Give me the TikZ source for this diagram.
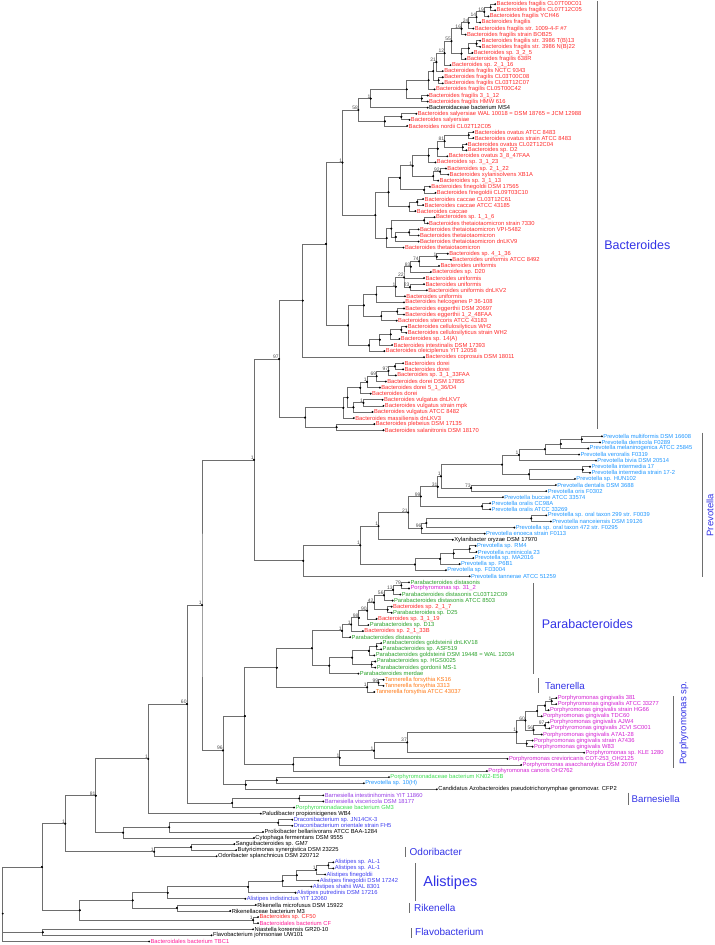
\documentclass[tikz,border=0pt]{standalone}
\usepackage{fontspec}
\setmainfont{Liberation Sans}
\usetikzlibrary{calc}
\definecolor{bred}{RGB}{255,40,40}
\definecolor{pblue}{RGB}{30,150,255}
\definecolor{pgreen}{RGB}{40,160,40}
\definecolor{pmag}{RGB}{210,30,210}
\definecolor{torange}{RGB}{255,120,20}
\definecolor{lgreen}{RGB}{60,220,80}
\definecolor{barn}{RGB}{150,60,230}
\definecolor{dblue}{RGB}{60,60,240}
\definecolor{bpink}{RGB}{255,30,150}
\definecolor{cladec}{RGB}{50,50,230}
\definecolor{brc}{RGB}{110,110,110}
\newcommand\tipfont{\fontsize{5.8}{6}\selectfont}
\newcommand\tp[4]{\coordinate (t#1) at ({#2},{7+(#1-1)*10.098});
  \node[tiplab,text=#3] (t#1l) at (t#1) {#4};}
\newcommand\nb[4]{\path ($(#3)!0.5!(#4)$) coordinate (tmp);
  \coordinate (#1) at (#2,0 |- tmp);
  \draw[br] (#3) -| (#1) |- (#4);
  \fill (#1) circle[radius=1.05pt] (#3) circle[radius=1.05pt] (#4) circle[radius=1.05pt];}
\newcommand\nc[5]{\path ($0.33333*(#3)+0.33333*(#4)+0.33333*(#5)$) coordinate (tmp);
  \coordinate (#1) at (#2,0 |- tmp);
  \draw[br] (#3) -| (#1) |- (#5);
  \draw[br] (#1) |- (#4);
  \fill (#1) circle[radius=1.05pt] (#3) circle[radius=1.05pt] (#4) circle[radius=1.05pt] (#5) circle[radius=1.05pt];}
\newcommand\bs[2]{\node[bsl] (#1b) at (#1) {#2};}
\newcommand\cladebar[4]{\coordinate (#1a) at (#2,#3); \coordinate (#1z) at (#2,#4); \draw[cbar] (#1a) -- (#1z);}
\begin{document}
\begin{tikzpicture}[x=0.456pt,y=-0.6027pt,
  tiplab/.style={anchor=west,inner sep=0pt,xshift=1.3pt,font=\tipfont},
  br/.style={draw=brc,line width=0.75pt},
  bsl/.style={anchor=south east,inner sep=0.2pt,font=\fontsize{5}{5}\selectfont,text=black!70},
  cbar/.style={draw=brc,line width=0.75pt},
  clab/.style={anchor=west,inner sep=0pt,text=cladec}]
\useasboundingbox (0,0) rectangle (1568,1568);
% ---------- tips ----------
\tp{1}{1086}{bred}{Bacteroides fragilis CL07T00C01}
\tp{2}{1086}{bred}{Bacteroides fragilis CL07T12C05}
\tp{3}{1071}{bred}{Bacteroides fragilis YCH46}
\tp{4}{1053}{bred}{Bacteroides fragilis}
\tp{5}{1038}{bred}{Bacteroides fragilis str. 1009-4-F \#7}
\tp{6}{1021}{bred}{Bacteroides fragilis strain BOB25}
\tp{7}{1053}{bred}{Bacteroides fragilis str. 3986 T(B)13}
\tp{8}{1053}{bred}{Bacteroides fragilis str. 3986 N(B)22}
\tp{9}{1036}{bred}{Bacteroides sp. 3\_2\_5}
\tp{10}{1021}{bred}{Bacteroides fragilis 638R}
\tp{11}{988}{bred}{Bacteroides sp. 2\_1\_16}
\tp{12}{971}{bred}{Bacteroides fragilis NCTC 9343}
\tp{13}{971}{bred}{Bacteroides fragilis CL03T00C08}
\tp{14}{971}{bred}{Bacteroides fragilis CL03T12C07}
\tp{15}{953}{bred}{Bacteroides fragilis CL05T00C42}
\tp{16}{938}{bred}{Bacteroides fragilis 3\_1\_12}
\tp{17}{938}{bred}{Bacteroides fragilis HMW 616}
\tp{18}{938}{black}{Bacteroidaceae bacterium MS4}
\tp{19}{913}{bred}{Bacteroides salyersiae WAL 10018 = DSM 18765 = JCM 12988}
\tp{20}{898}{bred}{Bacteroides salyersiae}
\tp{21}{893}{bred}{Bacteroides nordii CL02T12C05}
\tp{22}{1038}{bred}{Bacteroides ovatus ATCC 8483}
\tp{23}{1038}{bred}{Bacteroides ovatus strain ATCC 8483}
\tp{24}{1023}{bred}{Bacteroides ovatus CL02T12C04}
\tp{25}{1023}{bred}{Bacteroides sp. D2}
\tp{26}{981}{bred}{Bacteroides ovatus 3\_8\_47FAA}
\tp{27}{955}{bred}{Bacteroides sp. 3\_1\_23}
\tp{28}{978}{bred}{Bacteroides sp. 2\_1\_22}
\tp{29}{983}{bred}{Bacteroides xylanisolvens XB1A}
\tp{30}{961}{bred}{Bacteroides sp. 3\_1\_13}
\tp{31}{943}{bred}{Bacteroides finegoldii DSM 17565}
\tp{32}{955}{bred}{Bacteroides finegoldii CL09T03C10}
\tp{33}{928}{bred}{Bacteroides caccae CL03T12C61}
\tp{34}{928}{bred}{Bacteroides caccae ATCC 43185}
\tp{35}{911}{bred}{Bacteroides caccae}
\tp{36}{953}{bred}{Bacteroides sp. 1\_1\_6}
\tp{37}{938}{bred}{Bacteroides thetaiotaomicron strain 7330}
\tp{38}{918}{bred}{Bacteroides thetaiotaomicron VPI-5482}
\tp{39}{918}{bred}{Bacteroides thetaiotaomicron}
\tp{40}{918}{bred}{Bacteroides thetaiotaomicron dnLKV9}
\tp{41}{885}{bred}{Bacteroides thetaiotaomicron}
\tp{42}{982}{bred}{Bacteroides sp. 4\_1\_36}
\tp{43}{989}{bred}{Bacteroides uniformis ATCC 8492}
\tp{44}{963}{bred}{Bacteroides uniformis}
\tp{45}{945}{bred}{Bacteroides sp. D20}
\tp{46}{930}{bred}{Bacteroides uniformis}
\tp{47}{930}{bred}{Bacteroides uniformis}
\tp{48}{936}{bred}{Bacteroides uniformis dnLKV2}
\tp{49}{888}{bred}{Bacteroides uniformis}
\tp{50}{886}{bred}{Bacteroides helcogenes P 36-108}
\tp{51}{886}{bred}{Bacteroides eggerthii DSM 20697}
\tp{52}{886}{bred}{Bacteroides eggerthii 1\_2\_48FAA}
\tp{53}{870}{bred}{Bacteroides stercoris ATCC 43183}
\tp{54}{891}{bred}{Bacteroides cellulosilyticus WH2}
\tp{55}{891}{bred}{Bacteroides cellulosilyticus strain WH2}
\tp{56}{876}{bred}{Bacteroides sp. 14(A)}
\tp{57}{860}{bred}{Bacteroides intestinalis DSM 17393}
\tp{58}{843}{bred}{Bacteroides oleiciplenus YIT 12058}
\tp{59}{930}{bred}{Bacteroides coprosuis DSM 18011}
\tp{60}{884}{bred}{Bacteroides dorei}
\tp{61}{884}{bred}{Bacteroides dorei}
\tp{62}{868}{bred}{Bacteroides sp. 3\_1\_33FAA}
\tp{63}{846}{bred}{Bacteroides dorei DSM 17855}
\tp{64}{833}{bred}{Bacteroides dorei 5\_1\_36/D4}
\tp{65}{813}{bred}{Bacteroides dorei}
\tp{66}{839}{bred}{Bacteroides vulgatus dnLKV7}
\tp{67}{841}{bred}{Bacteroides vulgatus strain mpk}
\tp{68}{817}{bred}{Bacteroides vulgatus ATCC 8482}
\tp{69}{776}{bred}{Bacteroides massiliensis dnLKV3}
\tp{70}{821}{bred}{Bacteroides plebeius DSM 17135}
\tp{71}{841}{bred}{Bacteroides salanitronis DSM 18170}
\tp{72}{1320}{pblue}{Prevotella multiformis DSM 16608}
\tp{73}{1316}{pblue}{Prevotella denticola F0289}
\tp{74}{1290}{pblue}{Prevotella melaninogenica ATCC 25845}
\tp{75}{1270}{pblue}{Prevotella veroralis F0319}
\tp{76}{1307}{pblue}{Prevotella bivia DSM 20514}
\tp{77}{1294}{pblue}{Prevotella intermedia 17}
\tp{78}{1294}{pblue}{Prevotella intermedia strain 17-2}
\tp{79}{1261}{pblue}{Prevotella sp. HUN102}
\tp{80}{1219}{pblue}{Prevotella dentalis DSM 3688}
\tp{81}{1198}{pblue}{Prevotella oris F0302}
\tp{82}{1103}{pblue}{Prevotella buccae ATCC 33574}
\tp{83}{1075}{pblue}{Prevotella oralis CC98A}
\tp{84}{1075}{pblue}{Prevotella oralis ATCC 33269}
\tp{85}{1198}{pblue}{Prevotella sp. oral taxon 299 str. F0039}
\tp{86}{1208}{pblue}{Prevotella nanceiensis DSM 19126}
\tp{87}{1128}{pblue}{Prevotella sp. oral taxon 472 str. F0295}
\tp{88}{1063}{pblue}{Prevotella enoeca strain F0113}
\tp{89}{993}{black}{Xylanibacter oryzae DSM 17970}
\tp{90}{1043}{pblue}{Prevotella sp. RM4}
\tp{91}{1045}{pblue}{Prevotella ruminicola 23}
\tp{92}{1038}{pblue}{Prevotella sp. MA2016}
\tp{93}{1008}{pblue}{Prevotella sp. P6B1}
\tp{94}{978}{pblue}{Prevotella sp. FD3004}
\tp{95}{1030}{pblue}{Prevotella tannerae ATCC 51259}
\tp{96}{897}{pgreen}{Parabacteroides distasonis}
\tp{97}{897}{pmag}{Porphyromonas sp. 31\_2}
\tp{98}{878}{pgreen}{Parabacteroides distasonis CL03T12C09}
\tp{99}{861}{pgreen}{Parabacteroides distasonis ATCC 8503}
\tp{100}{859}{bred}{Bacteroides sp. 2\_1\_7}
\tp{101}{859}{pgreen}{Parabacteroides sp. D25}
\tp{102}{826}{bred}{Bacteroides sp. 3\_1\_19}
\tp{103}{808}{pgreen}{Parabacteroides sp. D13}
\tp{104}{796}{bred}{Bacteroides sp. 2\_1\_33B}
\tp{105}{768}{pgreen}{Parabacteroides distasonis}
\tp{106}{836}{pgreen}{Parabacteroides goldsteinii dnLKV18}
\tp{107}{836}{pgreen}{Parabacteroides sp. ASF519}
\tp{108}{821}{pgreen}{Parabacteroides goldsteinii DSM 19448 = WAL 12034}
\tp{109}{823}{pgreen}{Parabacteroides sp. HGS0025}
\tp{110}{823}{pgreen}{Parabacteroides gordonii MS-1}
\tp{111}{786}{pgreen}{Parabacteroides merdae}
\tp{112}{841}{torange}{Tannerella forsythia KS16}
\tp{113}{841}{torange}{Tannerella forsythia 3313}
\tp{114}{821}{torange}{Tannerella forsythia ATCC 43037}
\tp{115}{1220}{pmag}{Porphyromonas gingivalis 381}
\tp{116}{1220}{pmag}{Porphyromonas gingivalis ATCC 33277}
\tp{117}{1203}{pmag}{Porphyromonas gingivalis strain HG66}
\tp{118}{1188}{pmag}{Porphyromonas gingivalis TDC60}
\tp{119}{1203}{pmag}{Porphyromonas gingivalis AJW4}
\tp{120}{1205}{pmag}{Porphyromonas gingivalis JCVI SC001}
\tp{121}{1188}{pmag}{Porphyromonas gingivalis A7A1-28}
\tp{122}{1168}{pmag}{Porphyromonas gingivalis strain A7436}
\tp{123}{1168}{pmag}{Porphyromonas gingivalis W83}
\tp{124}{1281}{pmag}{Porphyromonas sp. KLE 1280}
\tp{125}{1113}{pmag}{Porphyromonas crevioricanis COT-253\_OH2125}
\tp{126}{1143}{pmag}{Porphyromonas asaccharolytica DSM 20707}
\tp{127}{1068}{pmag}{Porphyromonas canoris OH2762}
\tp{128}{853}{lgreen}{Porphyromonadaceae bacterium KN02-E5B}
\tp{129}{798}{pblue}{Prevotella sp. 10(H)}
\tp{130}{958}{black}{Candidatus Azobacteroides pseudotrichonymphae genomovar. CFP2}
\tp{131}{709}{barn}{Barnesiella intestinihominis YIT 11860}
\tp{132}{709}{barn}{Barnesiella viscericola DSM 18177}
\tp{133}{645}{lgreen}{Porphyromonadaceae bacterium GM3}
\tp{134}{572}{black}{Paludibacter propionicigenes WB4}
\tp{135}{641}{dblue}{Draconibacterium sp. JN14CK-3}
\tp{136}{641}{dblue}{Draconibacterium orientale strain FH5}
\tp{137}{577}{black}{Prolixibacter bellariivorans ATCC BAA-1284}
\tp{138}{557}{black}{Cytophaga fermentans DSM 9555}
\tp{139}{514}{black}{Sanguibacteroides sp. GM7}
\tp{140}{518}{black}{Butyricimonas synergistica DSM 23225}
\tp{141}{475}{black}{Odoribacter splanchnicus DSM 220712}
\tp{142}{731}{dblue}{Alistipes sp. AL-1}
\tp{143}{731}{dblue}{Alistipes sp. AL-1}
\tp{144}{713}{dblue}{Alistipes finegoldii}
\tp{145}{698}{dblue}{Alistipes finegoldii DSM 17242}
\tp{146}{683}{dblue}{Alistipes shahii WAL 8301}
\tp{147}{648}{dblue}{Alistipes putredinis DSM 17216}
\tp{148}{538}{dblue}{Alistipes indistinctus YIT 12060}
\tp{149}{561}{black}{Rikenella microfusus DSM 15922}
\tp{150}{505}{black}{Rikenellaceae bacterium M3}
\tp{151}{566}{bred}{Bacteroides sp. CF50}
\tp{152}{566}{bpink}{Bacteroidales bacterium CF}
\tp{153}{555}{black}{Niastella koreensis GR20-10}
\tp{154}{464}{black}{Flavobacterium johnsoniae UW101}
\tp{155}{327}{bpink}{Bacteroidales bacterium TBC1}
% ---------- Bacteroides ----------
\nb{f1}{1076}{t1}{t2}
\nb{f2}{1062}{f1}{t3} \bs{f2}{19}
\nb{f3}{1045}{f2}{t4} \bs{f3}{14}
\nb{f4}{1028}{f3}{t5} \bs{f4}{24}
\nb{f5}{1012}{f4}{t6} \bs{f5}{16}
\nb{f6}{1045}{t7}{t8}
\nb{f7}{1028}{f6}{t9}
\nb{f8}{1012}{f7}{t10}
\nb{f9}{990}{f5}{f8} \bs{f9}{55}
\nb{f10}{975}{f9}{t11} \bs{f10}{12}
\nb{f12}{957}{f10}{t12} \bs{f12}{21}
\nb{pA}{962}{t13}{t14}
\nb{f13}{950}{f12}{pA}
\nb{f13x}{940}{f13}{t15}
\nb{f14}{925}{t16}{t17}
\nb{f15}{892}{f13x}{f14}
\nb{f16}{813}{f15}{t18} \bs{f16}{1}
\nb{s1}{880}{t19}{t20}
\nb{s2}{844}{s1}{t21}
\nb{B1}{786}{f16}{s2} \bs{B1}{58}
\nb{o1}{1028}{t22}{t23}
\nb{o2}{1015}{t24}{t25}
\nb{o3}{975}{o1}{o2} \bs{o3}{81}
\nb{o4}{960}{o3}{t26}
\nb{o5}{940}{o4}{t27}
\nb{o6}{965}{t28}{t29} \bs{o6}{92}
\nb{o7}{950}{o6}{t30}
\nb{o8}{905}{o5}{o7} \bs{o8}{1}
\nb{o9}{930}{t31}{t32}
\nb{o10}{877}{o8}{o9}
\nb{o11}{915}{t33}{t34}
\nb{o12}{897}{o11}{t35}
\nb{o13}{852}{o10}{o12}
\nb{th1}{930}{t36}{t37}
\nb{thA}{897}{t38}{t39}
\nb{thB}{868}{thA}{t40}
\nb{th3}{858}{th1}{thB}
\nb{th4}{848}{th3}{t41}
\nb{o14}{823}{o13}{th4}
\nb{B2}{751}{B1}{o14} \bs{B2}{1}
\nb{u1}{958}{t42}{t43} \bs{u1}{1}
\nb{u2}{919}{u1}{t44} \bs{u2}{74}
\nb{u3}{901}{u2}{t45} \bs{u3}{83}
\nb{u4}{899}{t47}{t48} \bs{u4}{23}
\nc{u5}{886}{u3}{t46}{u4} \bs{u5}{22}
\nb{u6}{868}{u5}{t49} \bs{u6}{1}
\nb{u9}{825}{u6}{t50}
\nb{u7}{871}{t51}{t52}
\nb{eg}{836}{u7}{t53}
\nb{u10}{798}{u9}{eg}
\nb{c1}{880}{t54}{t55}
\nb{c2}{857}{c1}{t56}
\nb{c3}{833}{c2}{t57}
\nb{c4}{809}{c3}{t58}
\nb{u11}{763}{u10}{c4}
\nb{B3}{715}{B2}{u11}
\nb{B4}{664}{B3}{t59}
\nb{d1}{866}{t60}{t61}
\nb{d2}{852}{d1}{t62} \bs{d2}{97}
\nb{d3}{826}{d2}{t63} \bs{d3}{69}
\nb{d4}{805}{d3}{t64} \bs{d4}{1}
\nb{d5}{790}{d4}{t65}
\nb{v1}{797}{t66}{t67} \bs{v1}{1}
\nb{v2}{775}{v1}{t68}
\nb{d6}{762}{d5}{v2}
\nb{d7}{753}{d6}{t69}
\nb{p1}{738}{t70}{t71}
\nb{Dn}{669}{d7}{p1}
\nb{Bac}{612}{B4}{Dn} \bs{Bac}{97}
% ---------- Prevotella ----------
\nb{pv1}{1276}{t72}{t73}
\nb{pv2}{1230}{pv1}{t74}
\nb{pv3}{1195}{pv2}{t75}
\nb{pv4}{1138}{pv3}{t76} \bs{pv4}{1}
\nb{pv5}{1278}{t77}{t78}
\nb{pv6}{1160}{pv5}{t79}
\nb{pv7}{1101}{pv4}{pv6}
\nb{pv8}{1033}{t80}{t81} \bs{pv8}{73}
\nb{pv9}{967}{pv7}{pv8} \bs{pv9}{1}
\nb{pv10}{960}{pv9}{t82} \bs{pv10}{31}
\nb{pv11}{1057}{t83}{t84}
\nb{pv12}{923}{pv10}{pv11} \bs{pv12}{99}
\nb{q1}{1165}{t85}{t86}
\nb{q2}{935}{q1}{t87}
\nb{q3}{925}{q2}{t88} \bs{q3}{96}
\nb{pv13}{895}{pv12}{q3} \bs{pv13}{21}
\nb{pv14}{830}{pv13}{t89} \bs{pv14}{1}
\nb{r1}{1030}{t90}{t91}
\nb{r2}{995}{r1}{t92}
\nb{r3}{965}{r2}{t93}
\nb{r4}{910}{r3}{t94}
\nb{pv15}{790}{pv14}{r4} \bs{pv15}{1}
\nb{Prev}{665}{pv15}{t95}
\nb{nup}{557}{Bac}{Prev} \bs{nup}{1}
% ---------- Parabacteroides / Tannerella ----------
\nb{pa1}{880}{t96}{t97} \bs{pa1}{79}
\nb{pa2}{862}{pa1}{t98} \bs{pa2}{13}
\nb{pa3}{842}{pa2}{t99} \bs{pa3}{56}
\nb{pa4}{850}{t100}{t101}
\nb{n42}{820}{pa3}{pa4} \bs{n42}{42}
\nb{n90}{805}{n42}{t102} \bs{n90}{90}
\nb{n98}{787}{n90}{t103} \bs{n98}{98}
\nb{n1a}{770}{n98}{t104} \bs{n1a}{1}
\nb{n1b}{750}{n1a}{t105} \bs{n1b}{1}
\nb{g1}{826}{t106}{t107}
\nb{g2}{809}{g1}{t108}
\nb{h1}{815}{t109}{t110}
\nb{gh}{772}{g2}{h1}
\nb{gm}{722}{gh}{t111}
\nb{pp}{684}{n1b}{gm}
\nb{tn1}{830}{t112}{t113} \bs{tn1}{99}
\nb{tn2}{805}{tn1}{t114} \bs{tn2}{1}
\nb{PT}{607}{pp}{tn2}
% ---------- Porphyromonas ----------
\nb{pg1}{1210}{t115}{t116} \bs{pg1}{1}
\nb{pg2}{1195}{pg1}{t117}
\nb{pg3}{1178}{pg2}{t118}
\nb{pg4}{1195}{t119}{t120} \bs{pg4}{97}
\nb{pg5}{1170}{pg4}{t121} \bs{pg5}{56}
\nb{pg6}{1152}{pg3}{pg5} \bs{pg6}{60}
\nb{pg7}{1155}{t122}{t123}
\nb{pg8}{1133}{pg6}{pg7} \bs{pg8}{1}
\nb{n37}{893}{pg8}{t124} \bs{n37}{37}
\nb{n1c}{820}{n37}{t125} \bs{n1c}{1}
\nb{n1d}{745}{n1c}{t126} \bs{n1d}{1}
\nb{Porph}{643}{n1d}{t127}
\nb{PP}{537}{PT}{Porph}
\nb{cz1}{607}{t128}{t129}
\nb{cz2}{539}{cz1}{t130}
\nb{n96}{489}{PP}{cz2} \bs{n96}{96}
\nb{nb1}{443}{nup}{n96} \bs{nb1}{1}
% ---------- lower part ----------
\nb{bn1}{656}{t131}{t132}
\nb{bn2}{509}{bn1}{t133}
\nb{n60}{410}{nb1}{bn2} \bs{n60}{60}
\nb{n1p}{325}{n60}{t134} \bs{n1p}{1}
\nb{dr1}{610}{t135}{t136}
\nb{dr2}{371}{dr1}{t137}
\nb{dr3}{270}{dr2}{t138}
\nb{n81}{210}{n1p}{dr3} \bs{n81}{81}
\nb{od1}{419}{t139}{t140}
\nb{od2}{338}{od1}{t141} \bs{od2}{1}
\nb{n143}{143}{n81}{od2} \bs{n143}{1}
\nb{al1}{720}{t142}{t143}
\nb{al2}{693}{al1}{t144} \bs{al2}{1}
\nb{al3}{651}{al2}{t145}
\nb{al4}{620}{al3}{t146}
\nb{al5}{544}{al4}{t147}
\nb{al6}{368}{al5}{t148}
\nb{rk}{388}{t149}{t150}
\nb{ar}{291}{al6}{rk}
\nb{cf}{555}{t151}{t152} \bs{cf}{1}
\nb{arc}{175}{ar}{cf}
\nb{n92}{92}{n143}{arc}
\nb{fl}{94}{t153}{t154}
\nc{root}{6}{n92}{fl}{t155}
% ---------- clade bars and labels ----------
\cladebar{kb}{1310}{2}{712}
\node[clab,font=\fontsize{12.5}{13}\selectfont] (Lbac) at (1325,407) {Bacteroides};
\cladebar{kp}{1540}{718}{957}
\node[text=cladec,inner sep=0pt,rotate=90,font=\fontsize{9.5}{10}\selectfont] (Lprev) at (1557,855) {Prevotella};
\cladebar{kpa}{1170}{967}{1118}
\node[clab,font=\fontsize{12.5}{13}\selectfont] (Lpara) at (1188,1035) {Parabacteroides};
\cladebar{kt}{1180}{1125}{1150}
\node[clab,font=\fontsize{9.8}{10}\selectfont] (Ltan) at (1195,1138) {Tanerella};
\cladebar{kpo}{1477}{1155}{1275}
\node[text=cladec,inner sep=0pt,rotate=90,font=\fontsize{9.6}{10}\selectfont] (Lpor) at (1500,1200) {Porphyromonas sp.};
\cladebar{kba}{1377}{1315}{1335}
\node[clab,font=\fontsize{9.7}{10}\selectfont] (Lbar) at (1385,1325) {Barnesiella};
\cladebar{ko}{890}{1405}{1422}
\node[clab,font=\fontsize{10}{10}\selectfont] (Lodo) at (898,1413) {Odoribacter};
\cladebar{ka}{912}{1432}{1495}
\node[clab,font=\fontsize{14.5}{15}\selectfont] (Lali) at (928,1465) {Alistipes};
\cladebar{kr}{898}{1498}{1515}
\node[clab,font=\fontsize{10}{10}\selectfont] (Lrik) at (908,1507) {Rikenella};
\cladebar{kf}{903}{1540}{1556}
\node[clab,font=\fontsize{10}{10}\selectfont] (Lfla) at (910,1547) {Flavobacterium};
\end{tikzpicture}
\end{document}
